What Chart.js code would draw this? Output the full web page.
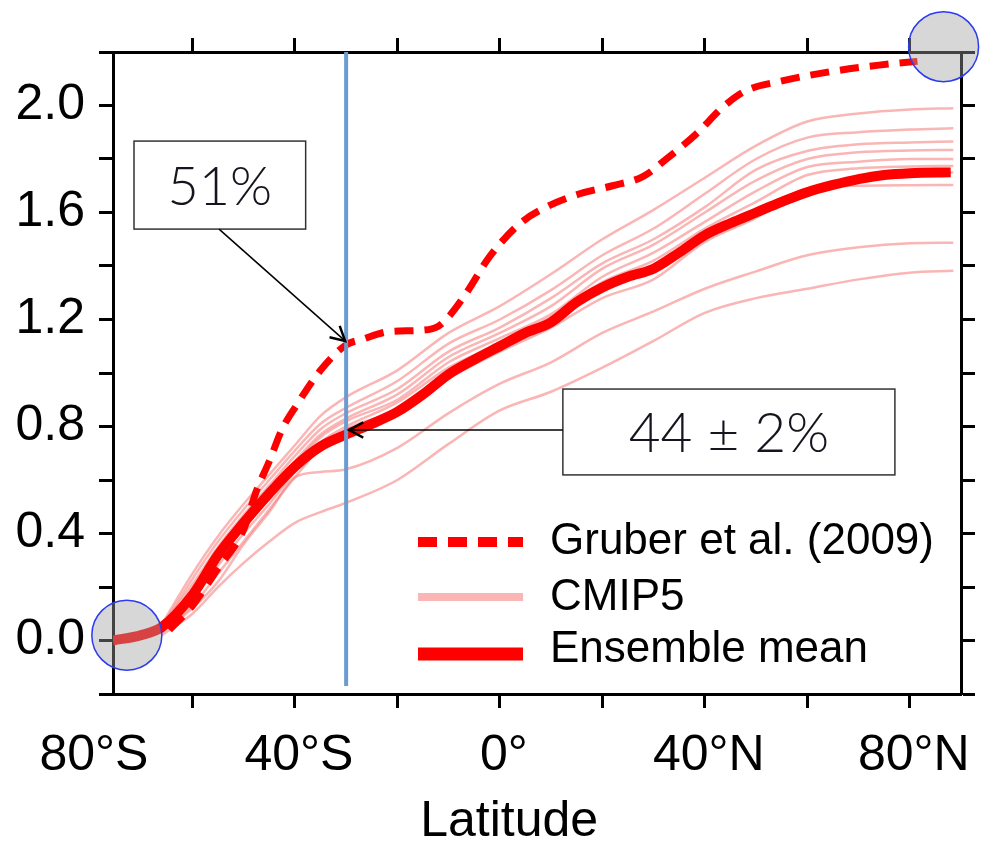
<!DOCTYPE html>
<html>
<head>
<meta charset="utf-8">
<script src="https://cdn.jsdelivr.net/npm/chart.js@4.4.1/dist/chart.umd.min.js"></script>
<style>
  body { margin: 0; background: #fff; }
</style>
</head>
<body>
<canvas id="chart" width="981" height="845"></canvas>
<script>
// Cumulative anthropogenic carbon uptake vs latitude
const xTickValues = [-80, -40, 0, 40, 80];
const xTickLabels = ["80°S", "40°S", "0°", "40°N", "80°N"];
const yTickLabels = ["0.0", "0.4", "0.8", "1.2", "1.6", "2.0"];
const legendLabels = ["Gruber et al. (2009)", "CMIP5", "Ensemble mean"];
const calloutTexts = ["51%", "44 ± 2%"];

// ensemble mean
const meanLat = [-75.5, -70, -66, -60, -55, -50, -45, -40, -35, -30, -25, -20, -15, -10, -5, 0, 5, 10, 15, 20, 25, 30, 35, 40, 45, 50, 55, 60, 65, 70, 75, 80, 88];
const meanVal = [0.0, 0.02, 0.05, 0.17, 0.32, 0.44, 0.55, 0.65, 0.725, 0.77, 0.81, 0.855, 0.92, 0.995, 1.05, 1.10, 1.15, 1.19, 1.265, 1.32, 1.36, 1.39, 1.45, 1.515, 1.56, 1.60, 1.64, 1.676, 1.703, 1.725, 1.74, 1.747, 1.75];

// Gruber et al. (2009) inversion
const gruberLat = [-64.5, -60, -55, -50, -47.5, -45, -42.5, -40, -35, -30, -27, -21.5, -15, -12, -10, -6.5, -2, 4, 9, 15.6, 22, 28, 32.5, 38.4, 43.6, 48, 54.6, 64.4, 74, 81.5];
const gruberVal = [0.04, 0.13, 0.27, 0.415, 0.56, 0.67, 0.79, 0.87, 1.01, 1.105, 1.125, 1.155, 1.16, 1.175, 1.21, 1.30, 1.435, 1.56, 1.62, 1.67, 1.70, 1.735, 1.80, 1.895, 1.995, 2.055, 2.09, 2.126, 2.151, 2.165];

// individual CMIP5 models
const cmipLat = [-66, -60, -55, -50, -45, -40, -35, -30, -20, -10, 0, 10, 20, 30, 40, 50, 60, 70, 80, 88.5];
const model1 = [0.06, 0.25, 0.39, 0.51, 0.62, 0.73, 0.84, 0.91, 1.01, 1.15, 1.25, 1.37, 1.50, 1.61, 1.73, 1.85, 1.94, 1.97, 1.985, 1.99];
const model2 = [0.05, 0.23, 0.37, 0.49, 0.60, 0.71, 0.81, 0.87, 0.97, 1.11, 1.20, 1.31, 1.44, 1.54, 1.67, 1.80, 1.88, 1.90, 1.91, 1.915];
const model3 = [0.05, 0.21, 0.35, 0.47, 0.58, 0.69, 0.79, 0.85, 0.94, 1.08, 1.17, 1.28, 1.41, 1.50, 1.62, 1.76, 1.83, 1.855, 1.862, 1.865];
const model4 = [0.04, 0.19, 0.33, 0.45, 0.56, 0.67, 0.77, 0.83, 0.92, 1.06, 1.15, 1.25, 1.39, 1.48, 1.60, 1.72, 1.80, 1.825, 1.832, 1.834];
const model5 = [0.04, 0.18, 0.31, 0.43, 0.54, 0.66, 0.76, 0.82, 0.90, 1.04, 1.13, 1.22, 1.36, 1.45, 1.565, 1.68, 1.77, 1.79, 1.80, 1.80];
const model6 = [0.03, 0.15, 0.28, 0.40, 0.51, 0.63, 0.74, 0.80, 0.89, 1.02, 1.11, 1.21, 1.34, 1.42, 1.54, 1.64, 1.74, 1.765, 1.772, 1.774];
const model7 = [0.03, 0.16, 0.30, 0.42, 0.53, 0.64, 0.72, 0.78, 0.86, 1.00, 1.10, 1.20, 1.33, 1.40, 1.52, 1.61, 1.69, 1.73, 1.745, 1.75];
const model8 = [0.03, 0.13, 0.25, 0.37, 0.49, 0.61, 0.72, 0.79, 0.86, 0.98, 1.08, 1.17, 1.28, 1.35, 1.49, 1.58, 1.69, 1.70, 1.702, 1.703];
const model9 = [0.03, 0.12, 0.22, 0.36, 0.48, 0.61, 0.63, 0.64, 0.72, 0.85, 0.96, 1.04, 1.15, 1.23, 1.315, 1.38, 1.44, 1.47, 1.485, 1.487];
const model10 = [0.02, 0.10, 0.20, 0.29, 0.37, 0.44, 0.48, 0.515, 0.60, 0.735, 0.86, 0.93, 1.02, 1.12, 1.225, 1.28, 1.315, 1.35, 1.375, 1.382];

// 30°S marker line and the two highlighted end points
const refLat = [-30, -30];
const refVal = [2.2, -0.17];
const spotLat = [-72.8, 86.6];
const spotVal = [0.02, 2.22];

const FONT = "'Liberation Sans', Arial, sans-serif";

function pairs(xs, ys) {
    return xs.map((x, i) => ({ x: x, y: ys[i] }));
}

const pink = "rgba(245, 120, 120, 0.55)";
const models = [model1, model2, model3, model4, model5, model6, model7, model8, model9, model10];
const cmipSets = models.map((m, i) => ({
    label: i === 0 ? "CMIP5" : "CMIP5 " + (i + 1),
    data: pairs(cmipLat, m),
    borderColor: pink,
    borderWidth: 2.5,
    pointRadius: 0,
    cubicInterpolationMode: "monotone"
}));

// draws the two boxed percentages and their arrows
const calloutPlugin = {
    id: "callouts",
    afterDatasetsDraw(chart, args, opts) {
        const ctx = chart.ctx;
        const sx = chart.scales.x, sy = chart.scales.y;
        ctx.save();
        opts.items.forEach((it, i) => {
            const l = sx.getPixelForValue(it.box[0]), r = sx.getPixelForValue(it.box[1]);
            const t = sy.getPixelForValue(it.box[2]), b = sy.getPixelForValue(it.box[3]);
            ctx.fillStyle = "#fff";
            ctx.fillRect(l, t, r - l, b - t);
            ctx.strokeStyle = "#333";
            ctx.lineWidth = 1.5;
            ctx.strokeRect(l, t, r - l, b - t);

            ctx.fillStyle = "#15151f";
            ctx.font = "300 " + it.size + "px Lato, 'Open Sans', sans-serif";
            ctx.textAlign = "center";
            ctx.textBaseline = "middle";
            ctx.fillText(calloutTexts[i], (l + r) / 2, (t + b) / 2 + 2);

            const x0 = sx.getPixelForValue(it.from[0]), y0 = sy.getPixelForValue(it.from[1]);
            const x1 = sx.getPixelForValue(it.to[0]), y1 = sy.getPixelForValue(it.to[1]);
            ctx.strokeStyle = "#000";
            ctx.lineWidth = 1.5;
            ctx.beginPath();
            ctx.moveTo(x0, y0);
            ctx.lineTo(x1, y1);
            ctx.stroke();
            const ang = Math.atan2(y1 - y0, x1 - x0);
            ctx.lineWidth = 2.5;
            ctx.beginPath();
            ctx.moveTo(x1 - 16 * Math.cos(ang - 0.5), y1 - 16 * Math.sin(ang - 0.5));
            ctx.lineTo(x1, y1);
            ctx.lineTo(x1 - 16 * Math.cos(ang + 0.5), y1 - 16 * Math.sin(ang + 0.5));
            ctx.stroke();
        });
        ctx.restore();
    }
};

// legend sitting in the lower right of the plot
const cornerLegend = {
    id: "cornerLegend",
    afterDraw(chart, args, o) {
        const ctx = chart.ctx, a = chart.chartArea;
        ctx.save();
        o.items.forEach((it, i) => {
            const ds = chart.data.datasets[it.dataset];
            const y = a.top + it.row;
            ctx.beginPath();
            ctx.setLineDash(ds.borderDash || []);
            ctx.lineWidth = it.width;
            ctx.strokeStyle = ds.borderColor;
            ctx.lineCap = "butt";
            ctx.moveTo(a.left + o.lineFrom, y);
            ctx.lineTo(a.left + o.lineTo, y);
            ctx.stroke();
            ctx.setLineDash([]);
            ctx.fillStyle = "#000";
            ctx.font = o.font;
            ctx.textAlign = "left";
            ctx.textBaseline = "middle";
            ctx.fillText(legendLabels[i], a.left + o.textX, y + it.textDy);
        });
        ctx.restore();
    }
};

const tickFont = { family: FONT, size: 50 };
const frame = { display: true, color: "#000", width: 3 };

new Chart(document.getElementById("chart"), {
    type: "line",
    data: {
        datasets: [
            {
                label: "ends",
                data: pairs(spotLat, spotVal),
                showLine: false,
                pointRadius: 35,
                pointBackgroundColor: "rgba(160, 160, 160, 0.42)",
                pointBorderColor: "#2b3cf0",
                pointBorderWidth: 1.5,
                clip: false
            },
            {
                label: "30S",
                data: pairs(refLat, refVal),
                borderColor: "#6b9bcf",
                borderWidth: 4,
                pointRadius: 0
            },
            {
                label: "Ensemble mean",
                data: pairs(meanLat, meanVal),
                borderColor: "#ff0000",
                borderWidth: 10,
                pointRadius: 0,
                cubicInterpolationMode: "monotone"
            },
            {
                label: "Gruber et al. (2009)",
                data: pairs(gruberLat, gruberVal),
                borderColor: "#ff0000",
                borderWidth: 7,
                borderDash: [19, 11],
                pointRadius: 0,
                cubicInterpolationMode: "monotone"
            },
            ...cmipSets
        ]
    },
    options: {
        responsive: false,
        animation: false,
        devicePixelRatio: 1,
        layout: { padding: 0, autoPadding: false },
        plugins: {
            legend: { display: false },
            tooltip: { enabled: false },
            callouts: {
                items: [
                    { box: [-71.4, -37.9, 1.867, 1.538], from: [-54.8, 1.538], to: [-30.2, 1.12], size: 54 },
                    { box: [12.3, 77.1, 0.94, 0.619], from: [12.3, 0.787], to: [-29.4, 0.787], size: 55 }
                ]
            },
            cornerLegend: {
                lineFrom: 305,
                lineTo: 410,
                textX: 437,
                font: "44px " + FONT,
                items: [
                    { dataset: 3, width: 10, row: 490, textDy: 0 },
                    { dataset: 4, width: 8, row: 545, textDy: 1 },
                    { dataset: 2, width: 13, row: 602, textDy: -4 }
                ]
            }
        },
        scales: {
            x: {
                type: "linear",
                position: "bottom",
                min: -75.5,
                max: 90,
                afterBuildTicks: (s) => { s.ticks = [{ value: -80 }].concat(s.ticks); },
                afterFit: (s) => { s.height = 151; s.paddingLeft = 0; s.paddingRight = 0; },
                ticks: {
                    stepSize: 20,
                    includeBounds: false,
                    autoSkip: false,
                    maxRotation: 0,
                    minRotation: 0,
                    padding: 0,
                    labelOffset: 4,
                    color: "#000",
                    font: { family: FONT, size: 50, lineHeight: 1.94 },
                    callback: (v) => {
                        const i = xTickValues.indexOf(v);
                        return i >= 0 ? xTickLabels[i] : "";
                    }
                },
                grid: {
                    drawOnChartArea: false,
                    tickLength: 14,
                    tickWidth: 3,
                    tickColor: (c) => (c.tick && c.tick.value < -75.5 ? "rgba(0,0,0,0)" : "#000")
                },
                border: frame,
                title: {
                    display: true,
                    // trailing no-break spaces nudge the centred title left, as in the figure
                    text: "Latitude\u00a0\u00a0\u00a0\u00a0",
                    color: "#000",
                    font: { family: FONT, size: 50, lineHeight: 1 },
                    padding: { top: 0, bottom: -2 }
                }
            },
            x2: {
                type: "linear",
                position: "top",
                min: -75.5,
                max: 90,
                afterFit: (s) => { s.height = 52; s.paddingLeft = 0; s.paddingRight = 0; },
                ticks: { display: false, stepSize: 20, includeBounds: false },
                grid: { drawOnChartArea: false, tickLength: 14, tickWidth: 3, tickColor: "#000" },
                border: frame
            },
            y: {
                type: "linear",
                position: "left",
                min: -0.2,
                max: 2.2,
                afterFit: (s) => { s.width = 113; s.paddingTop = 0; s.paddingBottom = 0; },
                ticks: {
                    stepSize: 0.2,
                    autoSkip: false,
                    padding: 14,
                    color: "#000",
                    font: tickFont,
                    callback: (v) => {
                        const lbl = v.toFixed(1);
                        return yTickLabels.includes(lbl) ? lbl : "";
                    }
                },
                grid: { drawOnChartArea: false, tickLength: 14, tickWidth: 3, tickColor: "#000" },
                border: frame
            },
            y2: {
                type: "linear",
                position: "right",
                min: -0.2,
                max: 2.2,
                afterFit: (s) => { s.width = 20; s.paddingTop = 0; s.paddingBottom = 0; },
                ticks: { display: false, stepSize: 0.2 },
                grid: { drawOnChartArea: false, tickLength: 14, tickWidth: 3, tickColor: "#000" },
                border: frame
            }
        }
    },
    plugins: [calloutPlugin, cornerLegend]
});
</script>
</body>
</html>
